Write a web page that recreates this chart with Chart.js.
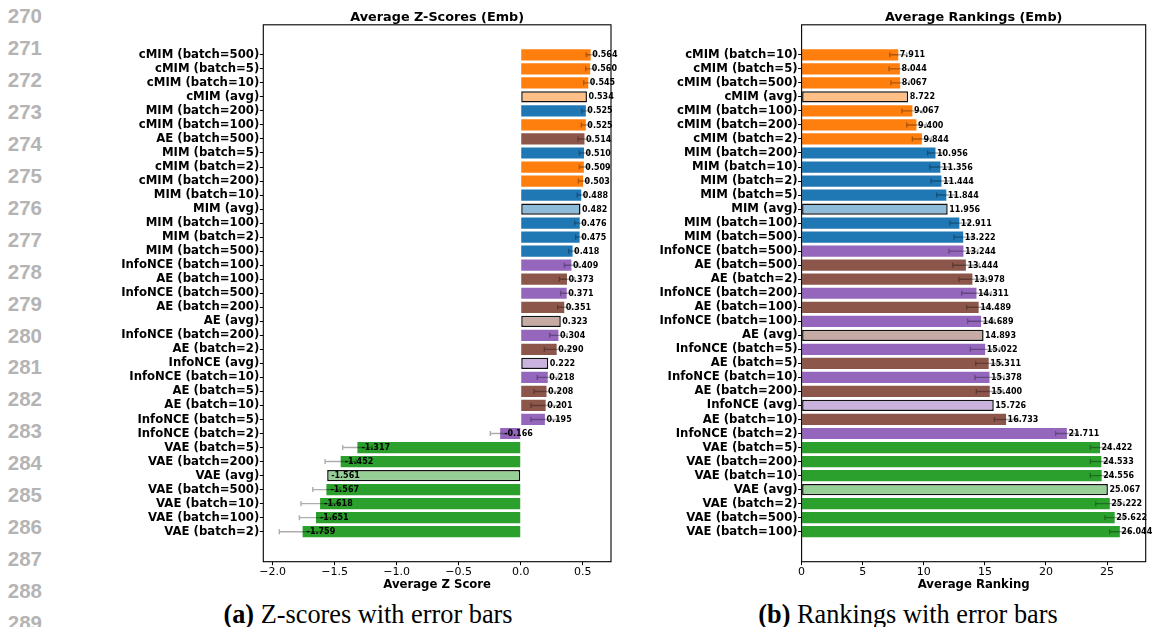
<!DOCTYPE html>
<html>
<head>
<meta charset="utf-8">
<script src="https://cdn.jsdelivr.net/npm/chart.js@4.4.1/dist/chart.umd.min.js"></script>
<style>
  html, body { margin: 0; padding: 0; background: #fff; }
  body { width: 1157px; height: 627px; position: relative; overflow: hidden; }
  .ln { position: absolute; left: 0; width: 42px; text-align: right;
        font: bold 20.5px "Liberation Sans", Arial, sans-serif; color: #b4b4b4; line-height: 20px; }
  .cap { position: absolute; width: 600px; text-align: center; white-space: nowrap;
         font: 26.3px "Liberation Serif", "Times New Roman", serif; color: #000; line-height: 26px; }
  .cap b { font-weight: bold; }
  #wrapA { position: absolute; left: 60px; top: 0; }
  #wrapB { position: absolute; left: 630px; top: 0; }
  canvas { display: block; }
</style>
</head>
<body>
<div id="lines"></div>
<div id="wrapA"><canvas id="chartA" width="570" height="600"></canvas></div>
<div id="wrapB"><canvas id="chartB" width="527" height="600"></canvas></div>
<div class="cap" style="left:68px; top:602px;"><b>(a)</b> Z-scores with error bars</div>
<div class="cap" style="left:608px; top:602px;"><b>(b)</b> Rankings with error bars</div>

<script>
// ---- Average Z-scores (Emb) ----
const zLabels = [
  'cMIM (batch=500)', 'cMIM (batch=5)', 'cMIM (batch=10)', 'cMIM (avg)', 'MIM (batch=200)',
  'cMIM (batch=100)', 'AE (batch=500)', 'MIM (batch=5)', 'cMIM (batch=2)', 'cMIM (batch=200)',
  'MIM (batch=10)', 'MIM (avg)', 'MIM (batch=100)', 'MIM (batch=2)', 'MIM (batch=500)',
  'InfoNCE (batch=100)', 'AE (batch=100)', 'InfoNCE (batch=500)', 'AE (batch=200)', 'AE (avg)',
  'InfoNCE (batch=200)', 'AE (batch=2)', 'InfoNCE (avg)', 'InfoNCE (batch=10)', 'AE (batch=5)',
  'AE (batch=10)', 'InfoNCE (batch=5)', 'InfoNCE (batch=2)', 'VAE (batch=5)', 'VAE (batch=200)',
  'VAE (avg)', 'VAE (batch=500)', 'VAE (batch=10)', 'VAE (batch=100)', 'VAE (batch=2)'
];
const zValues = [
  0.564, 0.560, 0.545, 0.534, 0.525, 0.525, 0.514, 0.510, 0.509, 0.503,
  0.488, 0.482, 0.476, 0.475, 0.418, 0.409, 0.373, 0.371, 0.351, 0.323,
  0.304, 0.290, 0.222, 0.218, 0.208, 0.201, 0.195, -0.166, -1.317, -1.452,
  -1.561, -1.567, -1.618, -1.651, -1.759
];
const zErrors = [
  0.036, 0.036, 0.037, 0, 0.033, 0.036, 0.052, 0.037, 0.036, 0.038,
  0.032, 0, 0.041, 0.032, 0.031, 0.057, 0.062, 0.049, 0.053, 0,
  0.070, 0.099, 0, 0.084, 0.100, 0.118, 0.112, 0.079, 0.119, 0.126,
  0, 0.110, 0.154, 0.134, 0.188
];
const zTicks = [-2.0, -1.5, -1.0, -0.5, 0.0, 0.5];

// ---- Average Rankings (Emb) ----
const rLabels = [
  'cMIM (batch=10)', 'cMIM (batch=5)', 'cMIM (batch=500)', 'cMIM (avg)', 'cMIM (batch=100)',
  'cMIM (batch=200)', 'cMIM (batch=2)', 'MIM (batch=200)', 'MIM (batch=10)', 'MIM (batch=2)',
  'MIM (batch=5)', 'MIM (avg)', 'MIM (batch=100)', 'MIM (batch=500)', 'InfoNCE (batch=500)',
  'AE (batch=500)', 'AE (batch=2)', 'InfoNCE (batch=200)', 'AE (batch=100)', 'InfoNCE (batch=100)',
  'AE (avg)', 'InfoNCE (batch=5)', 'AE (batch=5)', 'InfoNCE (batch=10)', 'AE (batch=200)',
  'InfoNCE (avg)', 'AE (batch=10)', 'InfoNCE (batch=2)', 'VAE (batch=5)', 'VAE (batch=200)',
  'VAE (batch=10)', 'VAE (avg)', 'VAE (batch=2)', 'VAE (batch=500)', 'VAE (batch=100)'
];
const rValues = [
  7.911, 8.044, 8.067, 8.722, 9.067, 9.400, 9.844, 10.956, 11.356, 11.444,
  11.844, 11.956, 12.911, 13.222, 13.244, 13.444, 13.978, 14.311, 14.489, 14.689,
  14.893, 15.022, 15.311, 15.378, 15.400, 15.726, 16.733, 21.711, 24.422, 24.533,
  24.556, 25.067, 25.222, 25.622, 26.044
];
const rErrors = [
  0.70, 0.89, 0.75, 0, 0.85, 0.80, 0.78, 0.64, 0.87, 0.85,
  0.79, 0, 0.77, 0.75, 1.18, 1.08, 1.10, 1.21, 0.98, 1.10,
  0, 1.21, 1.06, 1.19, 1.10, 0, 0.96, 0.92, 0.79, 0.90,
  0.93, 0, 1.15, 0.79, 0.83
];
const rTicks = [0, 5, 10, 15, 20, 25];

// Method colours; averaged rows use the same hue at half opacity with a dark outline
const methodColors = {
  cMIM: [255, 127, 14],
  MIM: [31, 119, 180],
  AE: [140, 86, 75],
  InfoNCE: [148, 103, 189],
  VAE: [44, 160, 44]
};

// Page line numbers down the left margin
(function () {
  const box = document.getElementById('lines');
  for (let n = 270; n <= 289; n++) {
    const d = document.createElement('div');
    d.className = 'ln';
    d.style.top = (16 + (n - 270) * 31.95 - 10) + 'px';
    d.textContent = n;
    box.appendChild(d);
  }
})();

const FONT = '"DejaVu Sans", Verdana, sans-serif';

function isAvg(label) { return label.indexOf('(avg)') >= 0; }
function rgbOf(label, alpha) {
  const c = methodColors[label.split(' ')[0]];
  if (alpha === 1) return `rgb(${c[0]},${c[1]},${c[2]})`;
  const mix = c.map(v => Math.round(v * alpha + 255 * (1 - alpha)));
  return `rgb(${mix[0]},${mix[1]},${mix[2]})`;
}

// Error bars, value annotations and the axes frame
function overlay(values, errors, negOffset, posOffset) {
  return {
    id: 'overlay',
    afterDatasetsDraw(chart) {
      const { ctx, chartArea, scales: { x, y } } = chart;
      ctx.save();
      ctx.strokeStyle = 'rgba(0,0,0,0.32)';
      ctx.lineWidth = 1.4;
      errors.forEach((e, i) => {
        if (!e) return;
        const v = values[i];
        const yc = y.getPixelForValue(i);
        const x0 = x.getPixelForValue(v - e);
        const x1 = x.getPixelForValue(v + e);
        ctx.beginPath();
        ctx.moveTo(x0, yc); ctx.lineTo(x1, yc);
        ctx.moveTo(x0, yc - 2.5); ctx.lineTo(x0, yc + 2.5);
        ctx.moveTo(x1, yc - 2.5); ctx.lineTo(x1, yc + 2.5);
        ctx.stroke();
      });
      ctx.fillStyle = '#000';
      ctx.font = 'bold 8px ' + FONT;
      ctx.textAlign = 'left';
      ctx.textBaseline = 'middle';
      values.forEach((v, i) => {
        const px = x.getPixelForValue(v) + (v < 0 ? negOffset : posOffset);
        ctx.fillText(v.toFixed(3), px, y.getPixelForValue(i) + 0.5);
      });
      ctx.strokeStyle = '#000';
      ctx.lineWidth = 1.1;
      ctx.strokeRect(chartArea.left, chartArea.top,
                     chartArea.right - chartArea.left, chartArea.bottom - chartArea.top);
      ctx.restore();
    }
  };
}

function buildChart(id, cfg) {
  const { labels, values, errors, ticks, xMin, xMax, title, xTitle, yWidth, padRight, tickFmt } = cfg;
  const n = labels.length;
  const pad = 2.14;
  return new Chart(document.getElementById(id), {
    type: 'bar',
    data: {
      datasets: [{
        data: labels.map((l, i) => ({ x: values[i], y: i })),
        backgroundColor: labels.map(l => rgbOf(l, isAvg(l) ? 0.5 : 1)),
        borderColor: labels.map(l => isAvg(l) ? '#111' : 'rgba(0,0,0,0)'),
        borderWidth: labels.map(l => isAvg(l) ? 1.5 : 0),
        borderSkipped: false,
        categoryPercentage: 1,
        barPercentage: 0.8
      }]
    },
    options: {
      indexAxis: 'y',
      responsive: false,
      animation: false,
      layout: { padding: { left: 0, right: padRight, top: 0, bottom: 0 } },
      plugins: {
        legend: { display: false },
        tooltip: { enabled: false },
        title: {
          display: true, text: title, fullSize: false, color: '#000',
          font: { family: FONT, size: 12.8, weight: 'bold', lineHeight: 1 },
          padding: { top: 11, bottom: 1 }
        }
      },
      scales: {
        x: {
          type: 'linear', min: xMin, max: xMax,
          afterBuildTicks: s => { s.ticks = ticks.map(v => ({ value: v })); },
          afterFit: s => { s.height = 38.3; },
          ticks: {
            autoSkip: false, maxRotation: 0, padding: 0, color: '#000',
            font: { family: FONT, size: 11 },
            callback: v => tickFmt(v)
          },
          grid: { drawOnChartArea: false, drawTicks: true, tickLength: 3.5, color: '#000', tickWidth: 1 },
          border: { display: false },
          title: {
            display: true, text: xTitle, color: '#000',
            font: { family: FONT, size: 11.7, weight: 'bold' },
            padding: { top: 0, bottom: 8 }
          }
        },
        y: {
          type: 'linear', reverse: true, offset: false, min: -pad, max: n - 1 + pad,
          afterBuildTicks: s => { s.ticks = labels.map((l, i) => ({ value: i })); },
          afterFit: s => { s.width = yWidth; },
          ticks: {
            autoSkip: false, padding: 0.5, color: '#000',
            font: { family: FONT, size: 11.7, weight: 'bold' },
            callback: v => labels[v]
          },
          grid: { offset: false, drawOnChartArea: false, drawTicks: true, tickLength: 3.5, color: '#000', tickWidth: 1 },
          border: { display: false }
        }
      }
    },
    plugins: [overlay(values, errors, cfg.negOffset, cfg.posOffset)]
  });
}

buildChart('chartA', {
  labels: zLabels, values: zValues, errors: zErrors, ticks: zTicks,
  xMin: -2.076, xMax: 0.728,
  title: 'Average Z-Scores (Emb)', xTitle: 'Average Z Score',
  yWidth: 203.3, padRight: 19, negOffset: 4, posOffset: 1.5,
  tickFmt: v => v.toFixed(1).replace('-', '\u2212')
});

buildChart('chartB', {
  labels: rLabels, values: rValues, errors: rErrors, ticks: rTicks,
  xMin: 0, xMax: 28.16,
  title: 'Average Rankings (Emb)', xTitle: 'Average Ranking',
  yWidth: 171.6, padRight: 11.3, negOffset: 4, posOffset: 1.5,
  tickFmt: v => String(v)
});
</script>
</body>
</html>
